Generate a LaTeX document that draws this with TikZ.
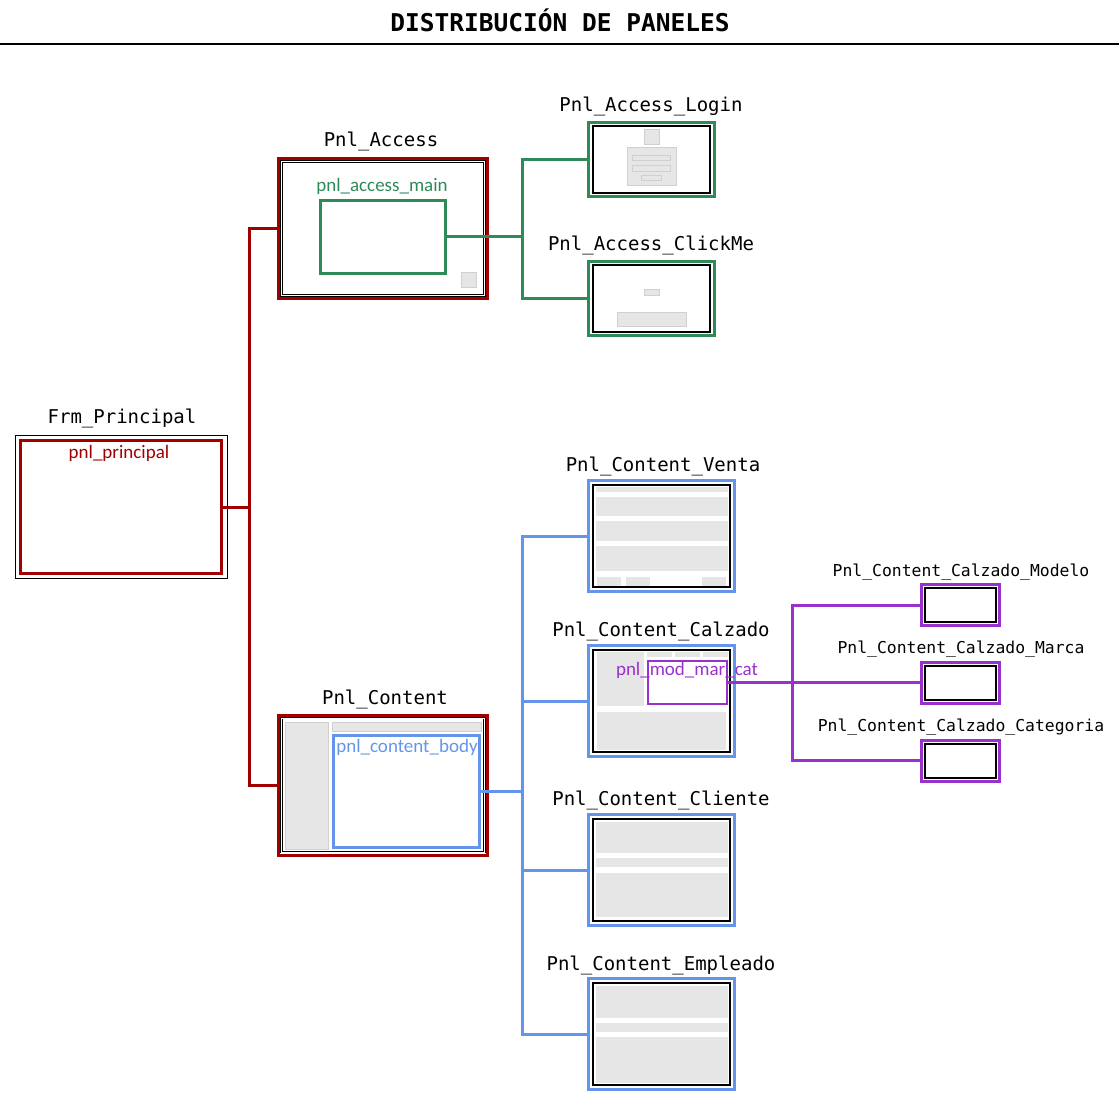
\documentclass[tikz,border=0pt]{standalone}
\usepackage{fontspec}
\setmonofont{DejaVu Sans Mono}
\newfontfamily\uifont{Carlito}
\usetikzlibrary{calc}

\definecolor{cred}{RGB}{160,0,0}
\definecolor{cgreen}{RGB}{46,139,87}
\definecolor{cblue}{RGB}{100,149,237}
\definecolor{cpurple}{RGB}{153,50,204}
\definecolor{cfill}{RGB}{230,230,230}
\definecolor{cline}{RGB}{208,208,208}

\tikzset{
  panel/.style={draw=#1, line width=3pt, rectangle, inner sep=0pt},
  frame/.style={draw=black, line width=2pt, rectangle, inner sep=0pt},
  dframe/.style={draw=black, double=white, double distance=1pt, line width=0.8pt, rectangle, inner sep=0pt},
  link/.style={draw=#1, line width=3pt},
  lbl/.style={anchor=base, inner sep=0pt, font=\ttfamily\fontsize{19}{22}\selectfont},
  slbl/.style={anchor=base, inner sep=0pt, font=\ttfamily\fontsize{16.4}{20}\selectfont},
  inlbl/.style={inner sep=0pt, text=#1, font=\uifont\fontsize{19}{22}\selectfont},
  mock/.style={fill=cfill, draw=cline, line width=1pt},
  flat/.style={fill=cfill}
}

\begin{document}
\begin{tikzpicture}[x=1pt, y=-1pt]
            \useasboundingbox (0,0) rectangle (1119,1107);

            % Title
            \node[anchor=base, inner sep=0pt, font=\ttfamily\bfseries\fontsize{24.5}{28}\selectfont] (title) at (560,32) {DISTRIBUCIÓN DE PANELES};
            \draw[line width=1.5pt] (0,44) -- (1119,44);

            % Frm_Principal
            \node[draw=black, line width=1pt, rectangle, inner sep=0pt, minimum width=212, minimum height=143] (frm) at (121.5,507) {};
            \node[panel=cred, minimum width=201, minimum height=133] (pnlprin) at (121,507) {};
            \node[lbl] (lblfrm) at (122,423) {Frm\_Principal};
            \node[inlbl=cred] (lblprin) at (119,453) {pnl\_principal};

            % Pnl_Access
            \node[panel=cred, minimum width=209, minimum height=140] (access) at (383,228.5) {};
            \node[dframe, minimum width=203, minimum height=134] (accessin) at (383,228.5) {};
            \node[panel=cgreen, minimum width=125, minimum height=73] (accmain) at (383,237) {};
            \filldraw[mock] (461,273) rectangle (476,288);
            \node[lbl] (lblaccess) at (381,147) {Pnl\_Access};
            \node[inlbl=cgreen] (lblaccmain) at (382,186) {pnl\_access\_main};

            % Pnl_Access_Login
            \node[panel=cgreen, minimum width=126, minimum height=74] (login) at (651.5,159.5) {};
            \node[frame, minimum width=117, minimum height=67] (loginin) at (651.5,159.5) {};
            \filldraw[mock] (644,130) rectangle (659,145);
            \filldraw[mock] (627,148) rectangle (676,186);
            \filldraw[mock] (632,156) rectangle (670,161);
            \filldraw[mock] (632,166) rectangle (670,172);
            \filldraw[mock] (641,176) rectangle (661,181);
            \node[lbl] (lbllogin) at (651,112) {Pnl\_Access\_Login};

            % Pnl_Access_ClickMe
            \node[panel=cgreen, minimum width=126, minimum height=74] (clickme) at (651.5,298.5) {};
            \node[frame, minimum width=117, minimum height=67] (clickmein) at (651.5,298.5) {};
            \filldraw[mock] (644,290) rectangle (659,296);
            \filldraw[mock] (617,313) rectangle (686,326);
            \node[lbl] (lblclickme) at (651,251) {Pnl\_Access\_ClickMe};

            % Pnl_Content
            \node[panel=cred, minimum width=209, minimum height=140] (content) at (383,785) {};
            \node[dframe, minimum width=203, minimum height=134] (contentin) at (383,785) {};
            \filldraw[mock] (285,722) rectangle (328,849);
            \filldraw[mock] (332,722) rectangle (481,731);
            \node[panel=cblue, minimum width=146, minimum height=112] (body) at (406.5,791.5) {};
            \node[lbl] (lblcontent) at (385,704) {Pnl\_Content};
            \node[inlbl=cblue] (lblbody) at (407,747) {pnl\_content\_body};

            % Pnl_Content_Venta
            \node[panel=cblue, minimum width=146, minimum height=111] (venta) at (661.5,536) {};
            \node[frame, minimum width=137, minimum height=102] (ventain) at (661.5,536) {};
            \fill[flat] (596,487) rectangle (728,492);
            \fill[flat] (596,497) rectangle (728,516);
            \fill[flat] (596,521) rectangle (728,541);
            \fill[flat] (596,546) rectangle (728,571);
            \foreach \x in {597, 626, 702} {
                \fill[flat] (\x,577) rectangle (\x+24,586);
            }
            \node[lbl] (lblventa) at (663,471) {Pnl\_Content\_Venta};

            % Pnl_Content_Calzado
            \node[panel=cblue, minimum width=146, minimum height=111] (calzado) at (661.5,701) {};
            \node[frame, minimum width=137, minimum height=102] (calzadoin) at (661.5,701) {};
            \fill[flat] (597,652) rectangle (644,706);
            \foreach \x in {647, 675, 703} {
                \fill[flat] (\x,652) rectangle (\x+25,657);
            }
            \fill[flat] (597,712) rectangle (726,750);
            \node[draw=cpurple, line width=2.5pt, rectangle, inner sep=0pt, minimum width=79, minimum height=43] (modcat) at (687.5,682.5) {};
            \node[lbl] (lblcalzado) at (661,636) {Pnl\_Content\_Calzado};
            \node[inlbl=cpurple] (lblmodcat) at (687,670) {pnl\_mod\_mar\_cat};

            % Pnl_Content_Cliente
            \node[panel=cblue, minimum width=146, minimum height=111] (cliente) at (661.5,870) {};
            \node[frame, minimum width=137, minimum height=102] (clientein) at (661.5,870) {};
            \fill[flat] (596,822) rectangle (728,853);
            \fill[flat] (596,858) rectangle (728,867);
            \fill[flat] (596,873) rectangle (728,917);
            \node[lbl] (lblcliente) at (661,805) {Pnl\_Content\_Cliente};

            % Pnl_Content_Empleado
            \node[panel=cblue, minimum width=146, minimum height=111] (empleado) at (661.5,1034) {};
            \node[frame, minimum width=137, minimum height=102] (empleadoin) at (661.5,1034) {};
            \fill[flat] (596,986) rectangle (728,1018);
            \fill[flat] (596,1023) rectangle (728,1032);
            \fill[flat] (596,1037) rectangle (728,1083);
            \node[lbl] (lblempleado) at (661,970) {Pnl\_Content\_Empleado};

            % Calzado sub panels
            \foreach \name/\y/\txt in {modelo/605/Modelo, marca/682.5/Marca, categoria/760.5/Categoria} {
                \node[panel=cpurple, minimum width=78, minimum height=41] (\name) at (960.5,\y) {};
                \node[frame, minimum width=71, minimum height=34] (\name in) at (960.5,\y) {};
                \node[slbl] (lbl\name) at (961,\y-29) {Pnl\_Content\_Calzado\_\txt};
            }

            % Connectors
            \coordinate (redbus) at (249,507);
            \draw[link=cred] (pnlprin.east) -- (redbus);
            \draw[link=cred] (access.west) -| (redbus);
            \draw[link=cred] (content.west) -| (redbus);

            \coordinate (greenbus) at (522,237);
            \draw[link=cgreen] (accmain.east) -- (greenbus);
            \draw[link=cgreen] (login.west) -| (greenbus);
            \draw[link=cgreen] (clickme.west) -| (greenbus);

            \coordinate (bluebus) at (522,791.5);
            \draw[link=cblue] (body.east) -- (bluebus);
            \foreach \n in {venta, calzado, cliente, empleado} {
                \draw[link=cblue] (\n.west) -| (bluebus);
            }

            \coordinate (purplebus) at (792,682.5);
            \draw[link=cpurple] (modcat.east) -- (purplebus);
            \foreach \n in {modelo, marca, categoria} {
                \draw[link=cpurple] (\n.west) -| (purplebus);
            }

        \end{tikzpicture}
\end{document}
